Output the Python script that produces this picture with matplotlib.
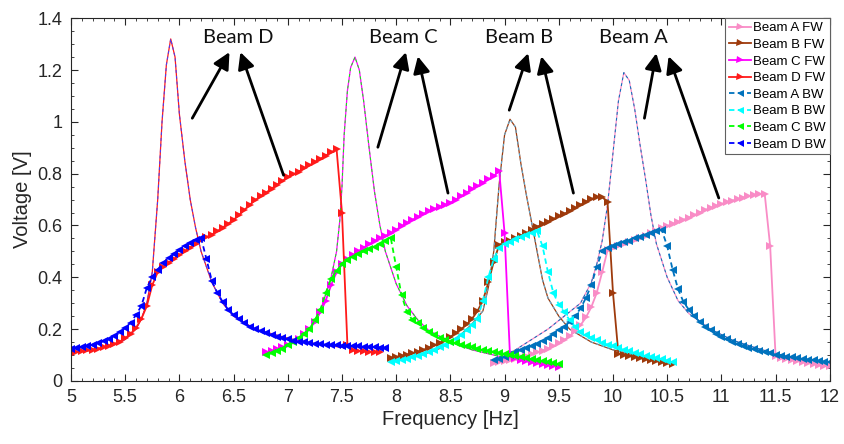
import numpy as np
import matplotlib.pyplot as plt
from matplotlib.ticker import MultipleLocator

# sweep step of the measured curves [Hz]
step = 0.05

# forward / backward sweeps: start frequency and voltage readings
d_fw_start = 5.00
d_fw = [0.110, 0.112, 0.115, 0.118, 0.121, 0.125, 0.130, 0.136, 0.143, 0.152,
        0.165, 0.182, 0.205, 0.240, 0.290, 0.370, 0.420, 0.440, 0.457, 0.470,
        0.485, 0.500, 0.515, 0.530, 0.545, 0.555, 0.565, 0.578, 0.592, 0.607,
        0.622, 0.640, 0.660, 0.680, 0.698, 0.713, 0.727, 0.742, 0.757, 0.772,
        0.787, 0.797, 0.808, 0.820, 0.832, 0.845, 0.857, 0.870, 0.882, 0.895,
        0.650, 0.140, 0.118, 0.116, 0.115, 0.113, 0.112, 0.111]
d_bw_start = 5.00
d_bw = [0.125, 0.128, 0.131, 0.135, 0.140, 0.146, 0.153, 0.162, 0.173, 0.187,
        0.205, 0.225, 0.255, 0.290, 0.360, 0.400, 0.430, 0.455, 0.475, 0.490,
        0.505, 0.520, 0.532, 0.543, 0.552, 0.470, 0.385, 0.340, 0.305, 0.275,
        0.255, 0.238, 0.223, 0.210, 0.200, 0.192, 0.184, 0.177, 0.171, 0.165,
        0.160, 0.156, 0.152, 0.149, 0.146, 0.144, 0.142, 0.140, 0.138, 0.137,
        0.136, 0.135, 0.134, 0.133, 0.132, 0.131, 0.130, 0.129, 0.128]

c_fw_start = 6.80
c_fw = [0.110, 0.115, 0.122, 0.130, 0.140, 0.150, 0.163, 0.180, 0.200, 0.228,
        0.265, 0.310, 0.370, 0.420, 0.450, 0.470, 0.485, 0.500, 0.515, 0.528,
        0.540, 0.550, 0.560, 0.570, 0.583, 0.597, 0.610, 0.622, 0.633, 0.645,
        0.655, 0.664, 0.672, 0.680, 0.688, 0.700, 0.713, 0.727, 0.740, 0.752,
        0.765, 0.778, 0.790, 0.812, 0.570, 0.095, 0.088, 0.082, 0.077, 0.072,
        0.068, 0.064, 0.061, 0.058, 0.055]
c_bw_start = 6.80
c_bw = [0.100, 0.107, 0.115, 0.125, 0.137, 0.150, 0.165, 0.182, 0.200, 0.235,
        0.275, 0.340, 0.395, 0.425, 0.450, 0.467, 0.480, 0.490, 0.500, 0.508,
        0.518, 0.530, 0.542, 0.552, 0.440, 0.330, 0.265, 0.235, 0.225, 0.205,
        0.190, 0.177, 0.165, 0.158, 0.152, 0.146, 0.140, 0.135, 0.130, 0.125,
        0.120, 0.116, 0.112, 0.108, 0.104, 0.100, 0.096, 0.092, 0.088, 0.084,
        0.080, 0.076, 0.072, 0.068, 0.064]

b_fw_start = 7.95
b_fw = [0.090, 0.093, 0.097, 0.102, 0.107, 0.113, 0.120, 0.128, 0.137, 0.147,
        0.158, 0.170, 0.185, 0.200, 0.218, 0.240, 0.270, 0.310, 0.380, 0.460,
        0.525, 0.535, 0.542, 0.550, 0.560, 0.570, 0.582, 0.595, 0.605, 0.615,
        0.625, 0.635, 0.645, 0.656, 0.667, 0.680, 0.692, 0.702, 0.710, 0.710,
        0.690, 0.340, 0.105, 0.100, 0.096, 0.092, 0.088, 0.084, 0.080, 0.076,
        0.072, 0.068, 0.064]
b_bw_start = 7.95
b_bw = [0.072, 0.076, 0.081, 0.086, 0.092, 0.098, 0.105, 0.113, 0.121, 0.130,
        0.140, 0.151, 0.163, 0.177, 0.195, 0.215, 0.240, 0.310, 0.400, 0.470,
        0.515, 0.528, 0.538, 0.547, 0.555, 0.563, 0.572, 0.578, 0.520, 0.420,
        0.340, 0.295, 0.265, 0.235, 0.210, 0.190, 0.178, 0.167, 0.157, 0.148,
        0.140, 0.133, 0.126, 0.120, 0.114, 0.108, 0.103, 0.098, 0.093, 0.088,
        0.083, 0.078, 0.073]

a_fw_start = 8.90
a_fw = [0.070, 0.073, 0.077, 0.081, 0.086, 0.091, 0.097, 0.103, 0.110, 0.117,
        0.125, 0.134, 0.145, 0.158, 0.173, 0.192, 0.215, 0.245, 0.285, 0.340,
        0.420, 0.505, 0.515, 0.522, 0.530, 0.537, 0.545, 0.553, 0.561, 0.570,
        0.580, 0.590, 0.598, 0.606, 0.614, 0.622, 0.630, 0.640, 0.650, 0.660,
        0.668, 0.676, 0.683, 0.690, 0.696, 0.702, 0.708, 0.713, 0.718, 0.722,
        0.720, 0.520, 0.095, 0.090, 0.085, 0.081, 0.077, 0.073, 0.069, 0.066,
        0.062, 0.059, 0.056]
a_bw_start = 8.90
a_bw = [0.080, 0.086, 0.092, 0.100, 0.110, 0.118, 0.126, 0.135, 0.144, 0.154,
        0.165, 0.180, 0.195, 0.210, 0.228, 0.250, 0.280, 0.320, 0.370, 0.440,
        0.500, 0.515, 0.522, 0.528, 0.535, 0.542, 0.550, 0.557, 0.563, 0.570,
        0.577, 0.583, 0.520, 0.430, 0.355, 0.305, 0.275, 0.250, 0.228, 0.210,
        0.195, 0.182, 0.170, 0.160, 0.151, 0.142, 0.135, 0.128, 0.122, 0.116,
        0.111, 0.106, 0.102, 0.098, 0.094, 0.091, 0.088, 0.085, 0.082, 0.079,
        0.077, 0.074, 0.072]

# thin low-excitation (linear) responses
d_lin_f = [5.0, 5.2, 5.4, 5.5, 5.6, 5.65, 5.7, 5.75, 5.8, 5.84, 5.88, 5.92, 5.96,
           6.0, 6.05, 6.1, 6.15, 6.2, 6.3, 6.4, 6.5, 6.7, 7.0, 7.3, 7.5]
d_lin_v = [0.108, 0.118, 0.14, 0.16, 0.2, 0.24, 0.3, 0.42, 0.7, 1.0, 1.22, 1.32, 1.25,
           1.03, 0.85, 0.70, 0.59, 0.50, 0.38, 0.30, 0.25, 0.20, 0.165, 0.14, 0.13]
c_lin_f = [6.8, 7.0, 7.1, 7.2, 7.3, 7.4, 7.45, 7.48, 7.5, 7.52, 7.55, 7.58, 7.62,
           7.66, 7.7, 7.75, 7.8, 7.85, 7.9, 8.0, 8.1, 8.2, 8.3, 8.5, 8.7, 9.0, 9.25, 9.5]
c_lin_v = [0.1, 0.135, 0.16, 0.2, 0.27, 0.4, 0.5, 0.62, 0.75, 0.95, 1.12, 1.21, 1.25,
           1.2, 1.08, 0.9, 0.73, 0.6, 0.5, 0.375, 0.29, 0.235, 0.195, 0.15, 0.12,
           0.09, 0.072, 0.06]
b_lin_f = [7.95, 8.2, 8.4, 8.5, 8.6, 8.7, 8.8, 8.85, 8.9, 8.95, 9.0, 9.05, 9.1,
           9.15, 9.2, 9.25, 9.3, 9.35, 9.4, 9.5, 9.6, 9.8, 10.0, 10.3, 10.55]
b_lin_v = [0.08, 0.095, 0.125, 0.15, 0.18, 0.22, 0.27, 0.36, 0.5, 0.76, 0.95, 1.01,
           0.98, 0.84, 0.72, 0.61, 0.5, 0.39, 0.32, 0.25, 0.2, 0.15, 0.12, 0.09, 0.07]
a_lin_f = [8.9, 9.1, 9.25, 9.4, 9.55, 9.7, 9.8, 9.85, 9.9, 9.95, 10.0, 10.05, 10.1,
           10.15, 10.2, 10.25, 10.3, 10.35, 10.4, 10.5, 10.6, 10.7, 10.9, 11.1, 11.3,
           11.5, 11.75, 12.0]
a_lin_v = [0.08, 0.12, 0.16, 0.2, 0.25, 0.3, 0.38, 0.45, 0.54, 0.68, 0.88, 1.08, 1.19,
           1.16, 1.05, 0.91, 0.78, 0.64, 0.53, 0.40, 0.31, 0.26, 0.2, 0.158, 0.13,
           0.105, 0.085, 0.07]

labels = ['Beam A FW', 'Beam B FW', 'Beam C FW', 'Beam D FW',
          'Beam A BW', 'Beam B BW', 'Beam C BW', 'Beam D BW']
colors = ['#F98CC6', '#9E3A0C', '#FF00FF', '#FF1A1A',
          '#0072BD', '#00FFFF', '#00FF00', '#0000FF']


def freqs(start, vals):
    return start + step * np.arange(len(vals))


plt.rcParams['font.family'] = ['Liberation Sans', 'DejaVu Sans']
fig = plt.figure(figsize=(8.45, 4.44), dpi=100)
ax = fig.add_axes([0.084, 0.142, 0.898, 0.817])

# thin lines (solid = FW colour, dashed = BW colour)
thin = [(a_lin_f, a_lin_v, colors[0], colors[4]),
        (b_lin_f, b_lin_v, colors[1], '#5AB0E0'),
        (c_lin_f, c_lin_v, colors[2], colors[6]),
        (d_lin_f, d_lin_v, colors[3], '#4040FF')]
for f, v, c1, c2 in thin:
    ax.plot(f, v, '-', color=c1, lw=0.9)
    ax.plot(f, v, '--', color=c2, lw=0.7, dashes=(3, 3))

fw = [(a_fw_start, a_fw), (b_fw_start, b_fw), (c_fw_start, c_fw), (d_fw_start, d_fw)]
bw = [(a_bw_start, a_bw), (b_bw_start, b_bw), (c_bw_start, c_bw), (d_bw_start, d_bw)]
for i, (s, v) in enumerate(fw):
    ax.plot(freqs(s, v), v, '-', marker='>', color=colors[i], lw=1.3, ms=5.6,
            mew=0, label=labels[i])
for i, (s, v) in enumerate(bw):
    ax.plot(freqs(s, v), v, '--', marker='<', color=colors[i + 4], lw=1.3, ms=5.6,
            mew=0, dashes=(3, 2), label=labels[i + 4])

ax.set_xlim(5, 12)
ax.set_ylim(0, 1.4)
ax.xaxis.set_major_locator(MultipleLocator(0.5))
ax.xaxis.set_minor_locator(MultipleLocator(0.1))
ax.yaxis.set_major_locator(MultipleLocator(0.2))
ax.yaxis.set_minor_locator(MultipleLocator(0.05))
ax.xaxis.set_major_formatter(plt.FuncFormatter(lambda x, p: f'{x:g}'))
ax.yaxis.set_major_formatter(plt.FuncFormatter(lambda x, p: f'{x:g}'))
ax.tick_params(which='both', direction='in', top=True, right=True,
               colors='#262626', labelsize=13, labelcolor='#262626')
ax.tick_params(which='major', length=5, pad=6)
ax.tick_params(which='minor', length=2.5)
for sp in ax.spines.values():
    sp.set_color('#262626')
    sp.set_linewidth(0.8)
ax.set_xlabel('Frequency [Hz]', fontsize=14.5, color='#262626', labelpad=3)
ax.set_ylabel('Voltage [V]', fontsize=14.5, color='#262626', labelpad=4)

# annotations
names = ['Beam D', 'Beam C', 'Beam B', 'Beam A']
name_x = [6.545, 8.062, 9.135, 10.19]
tails = [[(6.119, 1.014), (6.961, 0.794)],
         [(7.831, 0.902), (8.478, 0.725)],
         [(9.043, 1.045), (9.635, 0.725)],
         [(10.29, 1.014), (10.976, 0.706)]]
tips = [[(6.462, 1.269), (6.563, 1.269)],
        [(8.09, 1.269), (8.2, 1.253)],
        [(9.218, 1.265), (9.339, 1.253)],
        [(10.40, 1.265), (10.513, 1.253)]]
for name, x, tl, tp in zip(names, name_x, tails, tips):
    ax.text(x, 1.327, name, ha='center', va='center', fontsize=14.5,
            family=['Lato', 'DejaVu Sans'], color='#111111')
    for t0, t1 in zip(tl, tp):
        ax.annotate('', xy=t1, xytext=t0,
                    arrowprops=dict(arrowstyle='-|>,head_length=0.5,head_width=0.25',
                                    color='black', lw=2, mutation_scale=20,
                                    shrinkA=0, shrinkB=0))

leg = ax.legend(loc='upper right', fontsize=9.5, frameon=True, fancybox=False,
                framealpha=1, edgecolor='#606060', borderaxespad=0,
                borderpad=0.3, labelspacing=0.33, handlelength=1.7,
                handletextpad=0.15, markerscale=0.9)
leg.get_frame().set_linewidth(0.8)

fig.savefig('out.png', dpi=100)
